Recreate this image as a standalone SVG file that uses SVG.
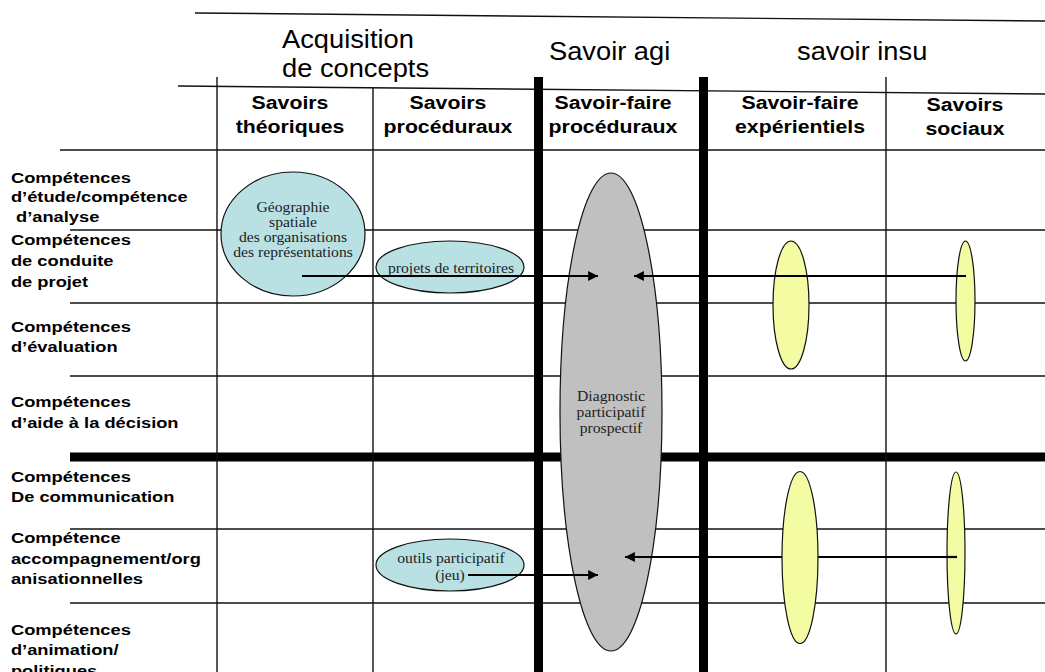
<svg xmlns="http://www.w3.org/2000/svg" width="1045" height="672" viewBox="0 0 1045 672">
<defs>
<style>
.g{stroke:#111;stroke-width:1.4;fill:none}
.gt{stroke:#000;stroke-width:9;fill:none}
.h1{font-family:"Liberation Sans",Arial,sans-serif;font-size:25.5px;fill:#000}
.ch{font-family:"Liberation Sans",Arial,sans-serif;font-size:18.5px;font-weight:bold;fill:#000;text-anchor:middle}
.rl{font-family:"Liberation Sans",Arial,sans-serif;font-size:15.5px;font-weight:bold;fill:#000}
.et{font-family:"Liberation Serif","Times New Roman",serif;font-size:14px;fill:#222;text-anchor:middle}
.blue{fill:#b9e0e2;stroke:#111;stroke-width:1.2}
.gray{fill:#c0c0c0;stroke:#111;stroke-width:1.2}
.yel{fill:#f3fba3;stroke:#111;stroke-width:1.2}
.arr{stroke:#000;stroke-width:2.2;fill:none}
</style>
<marker id="ah" viewBox="0 0 10 10" refX="10" refY="5" markerWidth="5.5" markerHeight="4.5" markerUnits="strokeWidth" orient="auto">
<path d="M0,0 L10,5 L0,10 z" fill="#000"/>
</marker>
</defs>
<rect width="1045" height="672" fill="#fff"/>
<g id="grid">
<line class="g" x1="195" y1="13" x2="1045" y2="21"/>
<line class="g" x1="178" y1="86" x2="1045" y2="94"/>
<line class="g" x1="60" y1="150" x2="1045" y2="150"/>
<line class="g" x1="70" y1="230" x2="1045" y2="230"/>
<line class="g" x1="70" y1="303" x2="1045" y2="303"/>
<line class="g" x1="70" y1="376" x2="1045" y2="376"/>
<line class="g" x1="70" y1="529" x2="1045" y2="529"/>
<line class="g" x1="70" y1="603" x2="1045" y2="603"/>
<line class="gt" x1="70" y1="457" x2="1045" y2="457"/>
<line class="g" x1="217" y1="77" x2="217" y2="672"/>
<line class="g" x1="373" y1="88" x2="373" y2="672"/>
<line class="g" x1="886" y1="77" x2="886" y2="672"/>
<line class="gt" x1="538.5" y1="77" x2="538.5" y2="672"/>
<line class="gt" x1="703.5" y1="77" x2="703.5" y2="672"/>
</g>
<g id="headers">
<text class="h1" transform="translate(282 48) scale(1.07 1)">Acquisition</text>
<text class="h1" transform="translate(282 77) scale(1.07 1)">de concepts</text>
<text class="h1" transform="translate(549 60) scale(1.07 1)">Savoir agi</text>
<text class="h1" transform="translate(797 60) scale(1.07 1)">savoir insu</text>
<text class="ch" transform="translate(290 109) scale(1.15 1)">Savoirs</text>
<text class="ch" transform="translate(290 133) scale(1.15 1)">théoriques</text>
<text class="ch" transform="translate(448 109) scale(1.15 1)">Savoirs</text>
<text class="ch" transform="translate(448 133) scale(1.15 1)">procéduraux</text>
<text class="ch" transform="translate(613 109) scale(1.15 1)">Savoir-faire</text>
<text class="ch" transform="translate(613 133) scale(1.15 1)">procéduraux</text>
<text class="ch" transform="translate(800 109) scale(1.15 1)">Savoir-faire</text>
<text class="ch" transform="translate(800 133) scale(1.15 1)">expérientiels</text>
<text class="ch" transform="translate(965 111) scale(1.15 1)">Savoirs</text>
<text class="ch" transform="translate(965 135) scale(1.15 1)">sociaux</text>
</g>
<g id="rows" transform="scale(1.18 1)">
<text class="rl" x="9.3" y="183">Compétences</text>
<text class="rl" x="9.3" y="202">d’étude/compétence</text>
<text class="rl" x="9.3" y="222" xml:space="preserve"> d’analyse</text>
<text class="rl" x="9.3" y="245">Compétences</text>
<text class="rl" x="9.3" y="266">de conduite</text>
<text class="rl" x="9.3" y="287">de projet</text>
<text class="rl" x="9.3" y="332">Compétences</text>
<text class="rl" x="9.3" y="352">d’évaluation</text>
<text class="rl" x="9.3" y="407">Compétences</text>
<text class="rl" x="9.3" y="428">d’aide à la décision</text>
<text class="rl" x="9.3" y="482">Compétences</text>
<text class="rl" x="9.3" y="502">De communication</text>
<text class="rl" x="9.3" y="543">Compétence</text>
<text class="rl" x="9.3" y="564">accompagnement/org</text>
<text class="rl" x="9.3" y="584">anisationnelles</text>
<text class="rl" x="9.3" y="635">Compétences</text>
<text class="rl" x="9.3" y="655">d’animation/</text>
<text class="rl" x="9.3" y="676">politiques</text>
</g>
<g id="n-geo">
<ellipse class="blue" cx="293" cy="234" rx="72" ry="62"/>
<text class="et" transform="translate(293 212) scale(1.12 1)">Géographie</text>
<text class="et" transform="translate(293 227) scale(1.12 1)">spatiale</text>
<text class="et" transform="translate(293 242) scale(1.12 1)">des organisations</text>
<text class="et" transform="translate(293 257) scale(1.12 1)">des représentations</text>
</g>
<g id="n-projets">
<ellipse class="blue" cx="450" cy="267" rx="74" ry="26"/>
<text class="et" transform="translate(451 273) scale(1.12 1)">projets de territoires</text>
</g>
<g id="n-outils">
<ellipse class="blue" cx="450" cy="565" rx="74" ry="26"/>
<text class="et" transform="translate(451 563) scale(1.12 1)">outils participatif</text>
<text class="et" transform="translate(450 580) scale(1.12 1)">(jeu)</text>
</g>
<g id="n-diag">
<ellipse class="gray" cx="611" cy="412" rx="51" ry="239"/>
<text class="et" transform="translate(611 401) scale(1.12 1)">Diagnostic</text>
<text class="et" transform="translate(611 417) scale(1.12 1)">participatif</text>
<text class="et" transform="translate(611 433) scale(1.12 1)">prospectif</text>
</g>
<g id="n-exp1">
<ellipse class="yel" cx="791" cy="305" rx="18" ry="64"/>
</g>
<g id="n-soc1">
<ellipse class="yel" cx="965.5" cy="301" rx="9.5" ry="60"/>
</g>
<g id="connectors">
<line class="arr" x1="302" y1="276" x2="598" y2="276" marker-end="url(#ah)"/>
<line class="arr" x1="966" y1="276" x2="634" y2="276" marker-end="url(#ah)"/>
<line class="arr" x1="468" y1="575" x2="598" y2="575" marker-end="url(#ah)"/>
<line class="arr" x1="957" y1="557" x2="625" y2="557" marker-end="url(#ah)"/>
</g>
<g id="n-exp2">
<ellipse class="yel" cx="800" cy="557.5" rx="18" ry="86"/>
</g>
<g id="n-soc2">
<ellipse class="yel" cx="956" cy="553" rx="9" ry="81"/>
<line class="arr" x1="947" y1="557" x2="957" y2="557"/>
</g>
</svg>
